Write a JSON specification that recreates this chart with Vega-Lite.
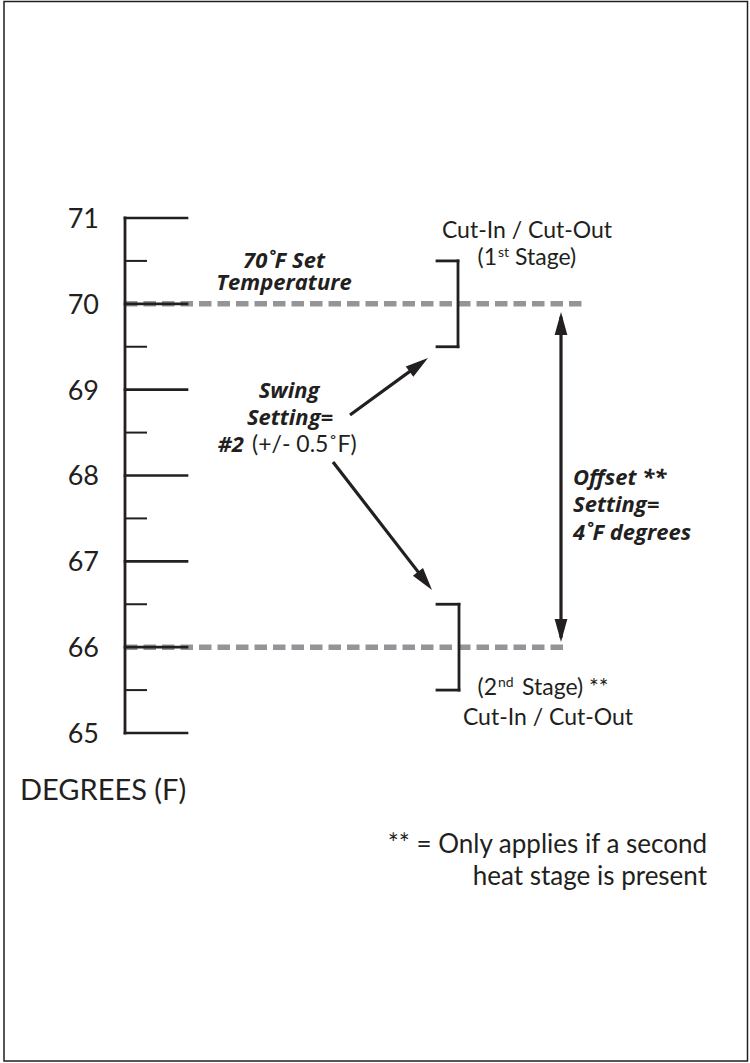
{
  "$schema": "https://vega.github.io/schema/vega-lite/v6.json",
  "width": 750,
  "height": 1063,
  "autosize": {"type": "none"},
  "padding": 0,
  "background": "white",
  "config": {"view": {"stroke": null}, "text": {"font": "Lato", "color": "#231f20"}},
  "datasets": {
    "frame": [{"x": 4, "y": 73.522, "x2": 747.5, "y2": 61.178}],
    "major": [
      {"x": 125, "x2": 187, "y": 71}, {"x": 125, "x2": 187, "y": 70}, {"x": 125, "x2": 187, "y": 69},
      {"x": 125, "x2": 187, "y": 68}, {"x": 125, "x2": 187, "y": 67}, {"x": 125, "x2": 187, "y": 66},
      {"x": 125, "x2": 187, "y": 65}
    ],
    "minor": [
      {"x": 125, "x2": 146, "y": 70.5}, {"x": 125, "x2": 146, "y": 69.5}, {"x": 125, "x2": 146, "y": 68.5},
      {"x": 125, "x2": 146, "y": 67.5}, {"x": 125, "x2": 146, "y": 66.5}, {"x": 125, "x2": 146, "y": 65.5}
    ],
    "numbers": [
      {"x": 99, "y": 71, "text": "71"}, {"x": 99, "y": 70, "text": "70"}, {"x": 99, "y": 69, "text": "69"},
      {"x": 99, "y": 68, "text": "68"}, {"x": 99, "y": 67, "text": "67"}, {"x": 99, "y": 66, "text": "66"},
      {"x": 99, "y": 65, "text": "65"}
    ],
    "setlines": [{"x": 125, "x2": 587, "y": 70}, {"x": 125, "x2": 567, "y": 66}],
    "segments": [
      {"part": "spine", "x": 125, "y": 65, "x2": 125, "y2": 71},
      {"part": "b1top", "x": 437, "y": 70.5, "x2": 458, "y2": 70.5},
      {"part": "b1v", "x": 458, "y": 70.5, "x2": 458, "y2": 69.5},
      {"part": "b1bot", "x": 437, "y": 69.5, "x2": 458, "y2": 69.5},
      {"part": "b2top", "x": 437, "y": 66.5, "x2": 459, "y2": 66.5},
      {"part": "b2v", "x": 459, "y": 66.5, "x2": 459, "y2": 65.5},
      {"part": "b2bot", "x": 437, "y": 65.5, "x2": 459, "y2": 65.5}
    ],
    "shafts": [
      {"part": "a1", "x": 350, "y": 68.705, "x2": 418.4, "y2": 69.286},
      {"part": "a2", "x": 333, "y": 68.157, "x2": 424.7, "y2": 66.778},
      {"part": "offset", "x": 561, "y": 69.85, "x2": 561, "y2": 66.11}
    ],
    "heads": [
      {"id": "a1", "x": 428, "y": 69.369},
      {"id": "a2", "x": 432, "y": 66.666},
      {"id": "top", "x": 561, "y": 69.905},
      {"id": "bot", "x": 561, "y": 66.06}
    ],
    "t_center": [
      {"x": 527, "y": 70.767, "text": "Cut-In / Cut-Out"},
      {"x": 548, "y": 65.093, "text": "Cut-In / Cut-Out"}
    ],
    "t_left": [
      {"x": 515, "y": 70.452, "text": "Stage)"},
      {"x": 522, "y": 65.443, "text": "Stage) **"},
      {"x": 252, "y": 68.274, "text": "(+/- 0.5˚F)"}
    ],
    "t_right": [
      {"x": 497, "y": 70.452, "text": "(1"},
      {"x": 497, "y": 65.443, "text": "(2"}
    ],
    "t_note": [
      {"x": 707, "y": 63.602, "text": "** = Only applies if a second"},
      {"x": 707, "y": 63.229, "text": "heat stage is present"}
    ],
    "t_sup": [
      {"x": 498, "y": 70.546, "text": "st"},
      {"x": 498, "y": 65.536, "text": "nd"}
    ],
    "t_axis": [{"x": 20, "y": 64.219, "text": "DEGREES (F)"}],
    "t_bi_center": [
      {"x": 284, "y": 70.4175, "text": "70˚F Set"},
      {"x": 284, "y": 70.161, "text": "Temperature"},
      {"x": 289, "y": 68.903, "text": "Swing"},
      {"x": 290, "y": 68.588, "text": "Setting="}
    ],
    "t_bi_left": [
      {"x": 573, "y": 67.889, "text": "Offset **"},
      {"x": 573, "y": 67.575, "text": "Setting="},
      {"x": 573, "y": 67.248, "text": "4˚F degrees"}
    ],
    "t_bi_right": [{"x": 244, "y": 68.274, "text": "#2"}]
  },
  "encoding": {
    "x": {"field": "x", "type": "quantitative", "scale": {"domain": [0, 750], "nice": false, "zero": false}, "axis": null},
    "y": {"field": "y", "type": "quantitative", "scale": {"domain": [61.1553, 73.5398], "nice": false, "zero": false}, "axis": null}
  },
  "layer": [
    {
      "data": {"name": "frame"},
      "mark": {"type": "rect", "fill": null, "stroke": "#231f20", "strokeWidth": 1.5},
      "encoding": {"x2": {"field": "x2"}, "y2": {"field": "y2"}}
    },
    {
      "data": {"name": "setlines"},
      "mark": {"type": "rule", "color": "#939598", "strokeWidth": 5.5, "strokeDash": [12.5, 6]},
      "encoding": {"x2": {"field": "x2"}}
    },
    {
      "data": {"name": "major"},
      "mark": {"type": "rule", "color": "#231f20", "strokeWidth": 2.7, "strokeCap": "square"},
      "encoding": {"x2": {"field": "x2"}}
    },
    {
      "data": {"name": "minor"},
      "mark": {"type": "rule", "color": "#231f20", "strokeWidth": 2, "strokeCap": "square"},
      "encoding": {"x2": {"field": "x2"}}
    },
    {
      "data": {"name": "segments"},
      "mark": {"type": "rule", "color": "#231f20", "strokeWidth": 2.8, "strokeCap": "square"},
      "encoding": {"x2": {"field": "x2"}, "y2": {"field": "y2"}}
    },
    {
      "data": {"name": "shafts"},
      "mark": {"type": "rule", "color": "#231f20", "strokeWidth": 3.2},
      "encoding": {"x2": {"field": "x2"}, "y2": {"field": "y2"}}
    },
    {
      "data": {"name": "heads"},
      "transform": [{"filter": "datum.id === 'a1'"}],
      "mark": {"type": "point", "shape": "M0,0L0.5,1.8L-0.5,1.8Z", "filled": true, "color": "#231f20", "opacity": 1, "size": 650, "angle": 53.5}
    },
    {
      "data": {"name": "heads"},
      "transform": [{"filter": "datum.id === 'a2'"}],
      "mark": {"type": "point", "shape": "M0,0L0.5,1.8L-0.5,1.8Z", "filled": true, "color": "#231f20", "opacity": 1, "size": 650, "angle": 142.3}
    },
    {
      "data": {"name": "heads"},
      "transform": [{"filter": "datum.id === 'top'"}],
      "mark": {"type": "point", "shape": "M0,0L0.5,1.8L-0.5,1.8Z", "filled": true, "color": "#231f20", "opacity": 1, "size": 650, "angle": 0}
    },
    {
      "data": {"name": "heads"},
      "transform": [{"filter": "datum.id === 'bot'"}],
      "mark": {"type": "point", "shape": "M0,0L0.5,1.8L-0.5,1.8Z", "filled": true, "color": "#231f20", "opacity": 1, "size": 650, "angle": 180}
    },
    {
      "data": {"name": "numbers"},
      "mark": {"type": "text", "align": "right", "baseline": "alphabetic", "fontSize": 27, "dy": 10},
      "encoding": {"text": {"field": "text"}}
    },
    {
      "data": {"name": "t_center"},
      "mark": {"type": "text", "align": "center", "baseline": "alphabetic", "fontSize": 23},
      "encoding": {"text": {"field": "text"}}
    },
    {
      "data": {"name": "t_left"},
      "mark": {"type": "text", "align": "left", "baseline": "alphabetic", "fontSize": 23},
      "encoding": {"text": {"field": "text"}}
    },
    {
      "data": {"name": "t_right"},
      "mark": {"type": "text", "align": "right", "baseline": "alphabetic", "fontSize": 23},
      "encoding": {"text": {"field": "text"}}
    },
    {
      "data": {"name": "t_note"},
      "mark": {"type": "text", "align": "right", "baseline": "alphabetic", "fontSize": 26},
      "encoding": {"text": {"field": "text"}}
    },
    {
      "data": {"name": "t_sup"},
      "mark": {"type": "text", "align": "left", "baseline": "alphabetic", "fontSize": 14},
      "encoding": {"text": {"field": "text"}}
    },
    {
      "data": {"name": "t_axis"},
      "mark": {"type": "text", "align": "left", "baseline": "alphabetic", "fontSize": 29},
      "encoding": {"text": {"field": "text"}}
    },
    {
      "data": {"name": "t_bi_center"},
      "mark": {"type": "text", "align": "center", "baseline": "alphabetic", "font": "Open Sans", "fontSize": 22, "fontWeight": "bold", "fontStyle": "italic"},
      "encoding": {"text": {"field": "text"}}
    },
    {
      "data": {"name": "t_bi_left"},
      "mark": {"type": "text", "align": "left", "baseline": "alphabetic", "font": "Open Sans", "fontSize": 22, "fontWeight": "bold", "fontStyle": "italic"},
      "encoding": {"text": {"field": "text"}}
    },
    {
      "data": {"name": "t_bi_right"},
      "mark": {"type": "text", "align": "right", "baseline": "alphabetic", "font": "Open Sans", "fontSize": 22, "fontWeight": "bold", "fontStyle": "italic"},
      "encoding": {"text": {"field": "text"}}
    }
  ]
}
